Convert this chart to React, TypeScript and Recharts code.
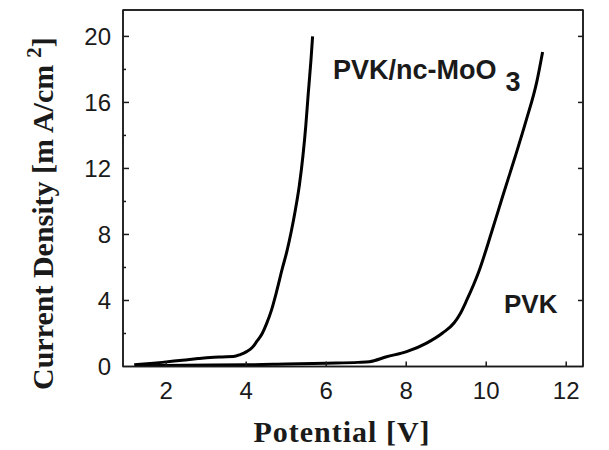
import { LineChart, Line, XAxis, YAxis, ReferenceArea } from "recharts";

// PVK/nc-MoO3 device
const moVolt = [1.2, 1.6, 1.9, 2.4, 2.8, 3.1, 3.4, 3.68, 3.85, 4.01, 4.15, 4.26, 4.4, 4.51, 4.63, 4.75, 4.91, 5.02, 5.12, 5.23, 5.33, 5.42, 5.49, 5.55, 5.62, 5.66];
const moCurr = [0.1, 0.18, 0.25, 0.38, 0.48, 0.55, 0.58, 0.6, 0.72, 0.9, 1.15, 1.5, 2.0, 2.6, 3.4, 4.45, 6.0, 7.0, 8.1, 9.5, 11.0, 12.8, 14.6, 16.5, 18.6, 20.0];

// PVK device
const pvkVolt = [1.3, 2.5, 4.0, 5.0, 6.0, 6.8, 7.08, 7.51, 8.01, 8.51, 8.91, 9.2, 9.35, 9.51, 9.83, 10.13, 10.41, 10.71, 11.01, 11.26, 11.41];
const pvkCurr = [0.05, 0.08, 0.1, 0.15, 0.2, 0.25, 0.29, 0.59, 0.9, 1.42, 2.03, 2.65, 3.2, 4.0, 5.85, 8.1, 10.3, 12.6, 15.0, 17.2, 19.06];

const xTicks = [2, 4, 6, 8, 10, 12];
const xTopTicks = [2, 3, 4, 5, 6, 7, 8, 9, 10, 11, 12];
const yTicks = [0, 2, 4, 6, 8, 10, 12, 14, 16, 18, 20];
const yRightTicks = [4, 8, 12, 16, 20];

const moData = moVolt.map((v, i) => ({ v, j: moCurr[i] }));
const pvkData = pvkVolt.map((v, i) => ({ v, j: pvkCurr[i] }));

const X_DOMAIN: [number, number] = [0.92, 12.42];
const Y_DOMAIN: [number, number] = [0, 21.6];

const INK = "#1a1a1a";
const SANS = "'Liberation Sans', Arial, sans-serif";
const SERIF = "'Liberation Serif', 'Times New Roman', serif";

const BottomTick = ({ x, y, payload }: any) => (
  <g>
    <line x1={x} x2={x} y1={y} y2={y - 5} stroke={INK} strokeWidth={1.5} />
    <text x={x} y={y + 32} textAnchor="middle" fontSize={24} fontFamily={SANS} fill={INK}>
      {payload.value}
    </text>
  </g>
);

const TopTick = ({ x, y }: any) => <line x1={x} x2={x} y1={y} y2={y + 4} stroke={INK} strokeWidth={1.2} />;

const LeftTick = ({ x, y, payload }: any) => {
  const v = payload.value;
  const major = v % 4 === 0;
  return (
    <g>
      {v !== 0 && <line x1={x} x2={x + (major ? 6 : 3)} y1={y} y2={y} stroke={INK} strokeWidth={1.5} />}
      {major && (
        <text x={x - 12} y={y} dy="0.36em" textAnchor="end" fontSize={24} fontFamily={SANS} fill={INK}>
          {v}
        </text>
      )}
    </g>
  );
};

const RightTick = ({ x, y }: any) => <line x1={x} x2={x - 5} y1={y} y2={y} stroke={INK} strokeWidth={1.5} />;

export default function App() {
  return (
    <div style={{ position: "absolute", left: 0, top: 0, width: 609, height: 450, background: "#fff" }}>
      <LineChart width={609} height={450} margin={{ top: 9, right: 25, left: 0, bottom: 0 }}>
        <XAxis
          xAxisId="b"
          type="number"
          dataKey="v"
          domain={X_DOMAIN}
          ticks={xTicks}
          allowDataOverflow
          height={83.5}
          tickSize={0}
          tickMargin={0}
          tickLine={false}
          axisLine={{ stroke: INK, strokeWidth: 1.5 }}
          tick={<BottomTick />}
          interval={0}
        />
        <XAxis
          xAxisId="t"
          orientation="top"
          type="number"
          domain={X_DOMAIN}
          ticks={xTopTicks}
          allowDataOverflow
          height={1}
          tickSize={0}
          tickMargin={0}
          tickLine={false}
          axisLine={{ stroke: INK, strokeWidth: 1.5 }}
          tick={<TopTick />}
          interval={0}
        />
        <YAxis
          yAxisId="l"
          type="number"
          domain={Y_DOMAIN}
          ticks={yTicks}
          allowDataOverflow
          width={123}
          tickSize={0}
          tickMargin={0}
          tickLine={false}
          axisLine={{ stroke: INK, strokeWidth: 1.5 }}
          tick={<LeftTick />}
          interval={0}
        />
        <YAxis
          yAxisId="r"
          orientation="right"
          type="number"
          domain={Y_DOMAIN}
          ticks={yRightTicks}
          allowDataOverflow
          width={1}
          tickSize={0}
          tickMargin={0}
          tickLine={false}
          axisLine={{ stroke: INK, strokeWidth: 1.5 }}
          tick={<RightTick />}
          interval={0}
        />
        <ReferenceArea
          xAxisId="b"
          yAxisId="l"
          x1={X_DOMAIN[0]}
          x2={X_DOMAIN[1]}
          y1={Y_DOMAIN[0]}
          y2={Y_DOMAIN[1]}
          fill="none"
          fillOpacity={0}
          stroke={INK}
          strokeWidth={1.5}
          ifOverflow="visible"
        />
        <Line
          xAxisId="b"
          yAxisId="l"
          data={pvkData}
          dataKey="j"
          type="monotone"
          stroke="#000"
          strokeWidth={3}
          dot={false}
          isAnimationActive={false}
        />
        <Line
          xAxisId="b"
          yAxisId="l"
          data={moData}
          dataKey="j"
          type="monotone"
          stroke="#000"
          strokeWidth={3}
          dot={false}
          isAnimationActive={false}
        />
        <text x={333} y={79} fontSize={27} fontWeight="bold" fontFamily={SANS} fill={INK}>
          PVK/nc-MoO
          <tspan dx={9} dy={12}>3</tspan>
        </text>
        <text x={504} y={313} fontSize={26} fontWeight="bold" fontFamily={SANS} fill={INK}>
          PVK
        </text>
        <text x={342} y={442} textAnchor="middle" fontSize={30} fontWeight="bold" letterSpacing={1} fontFamily={SERIF} fill={INK}>
          Potential [V]
        </text>
        <text transform="translate(53,390) rotate(-90)" fontSize={30} fontWeight="bold" fontFamily={SERIF} fill={INK}>
          Current Density [m A/cm
          <tspan dx={7} dy={-12} fontSize={21}>2</tspan>
          <tspan dy={12}>]</tspan>
        </text>
      </LineChart>
    </div>
  );
}
